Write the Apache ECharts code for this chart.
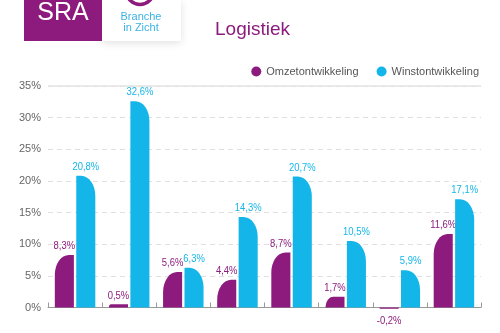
<!DOCTYPE html>
<html>
<head>
<meta charset="utf-8">
<script src="https://cdn.jsdelivr.net/npm/echarts@6/dist/echarts.min.js"></script>
<style>
  html, body { margin: 0; padding: 0; background: #fff; }
  #chart { width: 500px; height: 333px; }
</style>
</head>
<body>
<div id="chart"></div>
<script>
// Sector groups (category names are not printed along the axis)
const categories = ['1', '2', '3', '4', '5', '6', '7', '8'];
// Turnover development per group, in %
const omzet = [8.3, 0.5, 5.6, 4.4, 8.7, 1.7, -0.2, 11.6];
// Profit development per group, in %
const winst = [20.8, 32.6, 6.3, 14.3, 20.7, 10.5, 5.9, 17.1];
// Value axis ticks
const yTicks = [0, 5, 10, 15, 20, 25, 30, 35];

const PURPLE = '#8c1b7d';
const BLUE = '#14b6e9';
const FONT = 'Liberation Sans, Arial, sans-serif';

const fmt = v => String(v).replace('.', ',') + '%';

// Bar with one elliptically rounded top corner on the outer side of the pair,
// plus its value label. side = -1 draws the left bar, +1 the right one.
function pairedBar(side, color) {
  return function (params, api) {
    const idx = api.value(0);
    const val = api.value(1);
    const base = api.coord([idx, 0]);
    const tip = api.coord([idx, val]);
    const band = api.size([1, 0])[0];
    const w = band * 0.352;
    const gap = band * 0.022;
    const x = side < 0 ? base[0] - gap - w : base[0] + gap;
    const y = Math.min(base[1], tip[1]);
    const h = Math.max(Math.abs(base[1] - tip[1]), 0.5);
    const neg = val < 0;

    const ry0 = 20, rx0 = 14;
    const k = Math.min(1, h / ry0);
    const ry = ry0 * k, rx = rx0 * k;
    let d;
    if (neg) {
      d = `M${x},${y}L${x + w},${y}L${x + w},${y + h}L${x},${y + h}Z`;
    } else if (side < 0) {
      d = `M${x},${y + h}L${x},${y + ry}A${rx},${ry} 0 0 1 ${x + rx},${y}` +
          `L${x + w},${y}L${x + w},${y + h}Z`;
    } else {
      d = `M${x},${y + h}L${x},${y}L${x + w - rx},${y}` +
          `A${rx},${ry} 0 0 1 ${x + w},${y + ry}L${x + w},${y + h}Z`;
    }
    return {
      type: 'group',
      children: [
        {
          type: 'path',
          shape: { pathData: d },
          style: { fill: color }
        },
        {
          type: 'text',
          x: x + w / 2,
          y: neg ? y + h + 6 : y - 3,
          scaleX: 0.82,
          style: {
            text: fmt(val),
            fill: color,
            font: '11.5px ' + FONT,
            align: 'center',
            verticalAlign: neg ? 'top' : 'bottom'
          }
        }
      ]
    };
  };
}

const chart = echarts.init(document.getElementById('chart'), null, { renderer: 'canvas' });

chart.setOption({
  animation: false,
  backgroundColor: '#ffffff',
  title: {
    text: 'Logistiek',
    left: 210,
    top: 15,
    textStyle: { color: PURPLE, fontSize: 19, fontWeight: 'normal', fontFamily: FONT }
  },
  legend: {
    right: 16,
    top: 61,
    icon: 'circle',
    itemWidth: 10,
    itemHeight: 10,
    itemGap: 18,
    textStyle: { color: '#555', fontSize: 11, fontFamily: FONT },
    data: ['Omzetontwikkeling', 'Winstontwikkeling']
  },
  graphic: [
    // SRA badge
    {
      type: 'rect', left: 102, top: 0, z: 10,
      shape: { width: 79, height: 41 },
      style: { fill: '#fff', shadowBlur: 8, shadowColor: 'rgba(0,0,0,0.12)', shadowOffsetY: 2 }
    },
    {
      type: 'rect', left: 24, top: 0, z: 11,
      shape: { width: 78, height: 41 },
      style: { fill: PURPLE }
    },
    {
      type: 'text', x: 63, y: 13, z: 12,
      style: { text: 'SRA', fill: '#fff', font: '25px ' + FONT, textAlign: 'center', textVerticalAlign: 'middle' }
    },
    {
      type: 'circle', x: 140, y: -9, z: 12,
      shape: { cx: 0, cy: 0, r: 13.5 },
      style: { fill: 'none', stroke: PURPLE, lineWidth: 3.5 }
    },
    {
      type: 'text', x: 141, y: 17, z: 12,
      style: { text: 'Branche', fill: '#3ab3e2', font: '11px ' + FONT, textAlign: 'center', textVerticalAlign: 'middle' }
    },
    {
      type: 'text', x: 141, y: 28, z: 12,
      style: { text: 'in Zicht', fill: '#3ab3e2', font: '11px ' + FONT, textAlign: 'center', textVerticalAlign: 'middle' }
    }
  ],
  grid: { left: 48, right: 19, top: 86, bottom: 25.5, containLabel: false },
  xAxis: {
    type: 'category',
    data: categories,
    axisLine: { lineStyle: { color: '#999', width: 1 } },
    axisTick: { show: true, inside: true, length: 5, lineStyle: { color: '#999' } },
    axisLabel: { show: false },
    splitLine: { show: false }
  },
  yAxis: {
    type: 'value',
    min: yTicks[0],
    max: yTicks[yTicks.length - 1],
    interval: yTicks[1] - yTicks[0],
    axisLine: { show: false },
    axisTick: { show: false },
    axisLabel: {
      formatter: v => v + '%',
      color: '#666', fontSize: 11, fontFamily: FONT, margin: 7
    },
    splitLine: { show: true, lineStyle: { color: '#e0e0e0', type: [5, 4], width: 1 } }
  },
  series: [
    {
      name: 'Omzetontwikkeling',
      type: 'custom',
      itemStyle: { color: PURPLE },
      encode: { x: 0, y: 1 },
      renderItem: pairedBar(-1, PURPLE),
      data: omzet.map((v, i) => [i, v]),
      markLine: {
        silent: true, symbol: 'none', label: { show: false },
        lineStyle: { color: '#e3e3e3', type: 'solid', width: 1.5 },
        data: [{ yAxis: yTicks[yTicks.length - 1] }]
      }
    },
    {
      name: 'Winstontwikkeling',
      type: 'custom',
      itemStyle: { color: BLUE },
      encode: { x: 0, y: 1 },
      renderItem: pairedBar(1, BLUE),
      data: winst.map((v, i) => [i, v])
    }
  ]
});
</script>
</body>
</html>
